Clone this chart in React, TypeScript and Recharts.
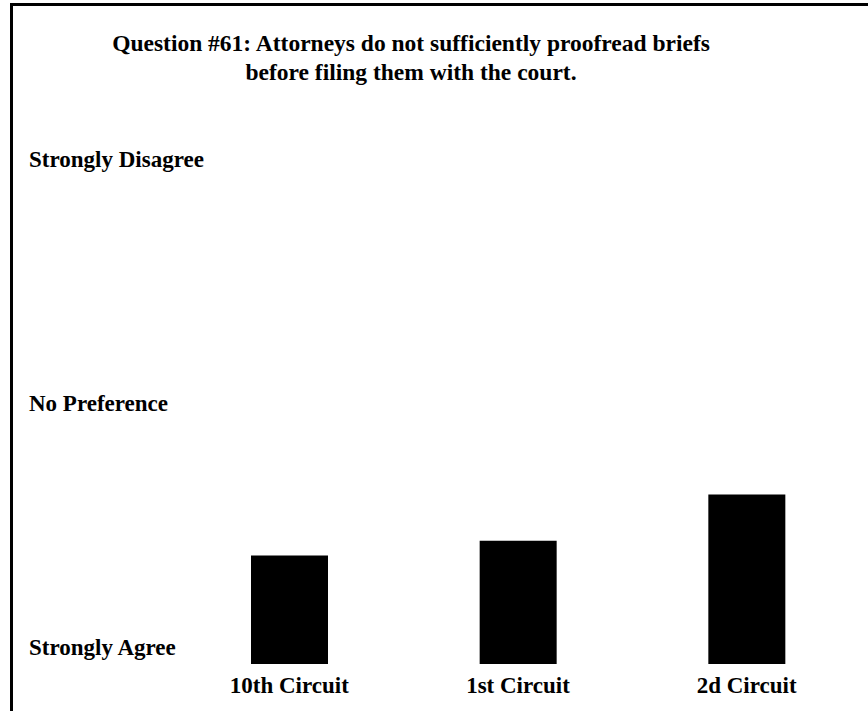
import React from 'react';
import { BarChart, Bar, XAxis, YAxis } from 'recharts';

const circuits = ['10th Circuit', '1st Circuit', '2d Circuit'];
const meanScores = [1.89, 2.01, 2.39];
const scaleTicks = [1, 3, 5];
const scaleLabels = ['Strongly Agree', 'No Preference', 'Strongly Disagree'];
const titleLines = [
  'Question #61: Attorneys do not sufficiently proofread briefs',
  'before filing them with the court.',
];

const data = circuits.map((name, i) => ({ name, score: meanScores[i] }));

const FONT = '"Liberation Serif", "Times New Roman", serif';

const YTick = (props: any) => {
  const { y, payload } = props;
  const idx = scaleTicks.indexOf(payload.value);
  return (
    <text x={29} y={y - 9} textAnchor="start" fontFamily={FONT} fontWeight="bold" fontSize={23} fill="#000">
      {scaleLabels[idx]}
    </text>
  );
};

const XTick = (props: any) => {
  const { x, payload } = props;
  return (
    <text x={x} y={693} textAnchor="middle" fontFamily={FONT} fontWeight="bold" fontSize={23} fill="#000">
      {payload.value}
    </text>
  );
};

export default function App() {
  return (
    <div style={{ position: 'absolute', left: 0, top: 0, width: 868, height: 711, overflow: 'hidden', background: '#fff' }}>
      <div
        style={{
          position: 'absolute',
          left: 10,
          top: 3,
          width: 900,
          height: 760,
          borderLeft: '3px solid #000',
          borderTop: '3px solid #000',
        }}
      />
      <div style={{ position: 'absolute', left: 0, top: 0 }}>
        <BarChart width={868} height={711} data={data} margin={{ top: 176, right: 7, bottom: 7, left: 0 }}>
          <XAxis dataKey="name" axisLine={false} tickLine={false} height={40} tick={<XTick />} interval={0} />
          <YAxis
            type="number"
            domain={[1, 5]}
            ticks={scaleTicks}
            width={175}
            axisLine={false}
            tickLine={false}
            tick={<YTick />}
            allowDataOverflow
          />
          <Bar dataKey="score" fill="#000" barSize={77} isAnimationActive={false} />
        </BarChart>
      </div>
      <svg width={868} height={120} style={{ position: 'absolute', left: 0, top: 0 }}>
        {titleLines.map((t, i) => (
          <text
            key={t}
            x={411}
            y={51 + i * 29}
            textAnchor="middle"
            fontFamily={FONT}
            fontWeight="bold"
            fontSize={23.5}
            fill="#000"
          >
            {t}
          </text>
        ))}
      </svg>
    </div>
  );
}
